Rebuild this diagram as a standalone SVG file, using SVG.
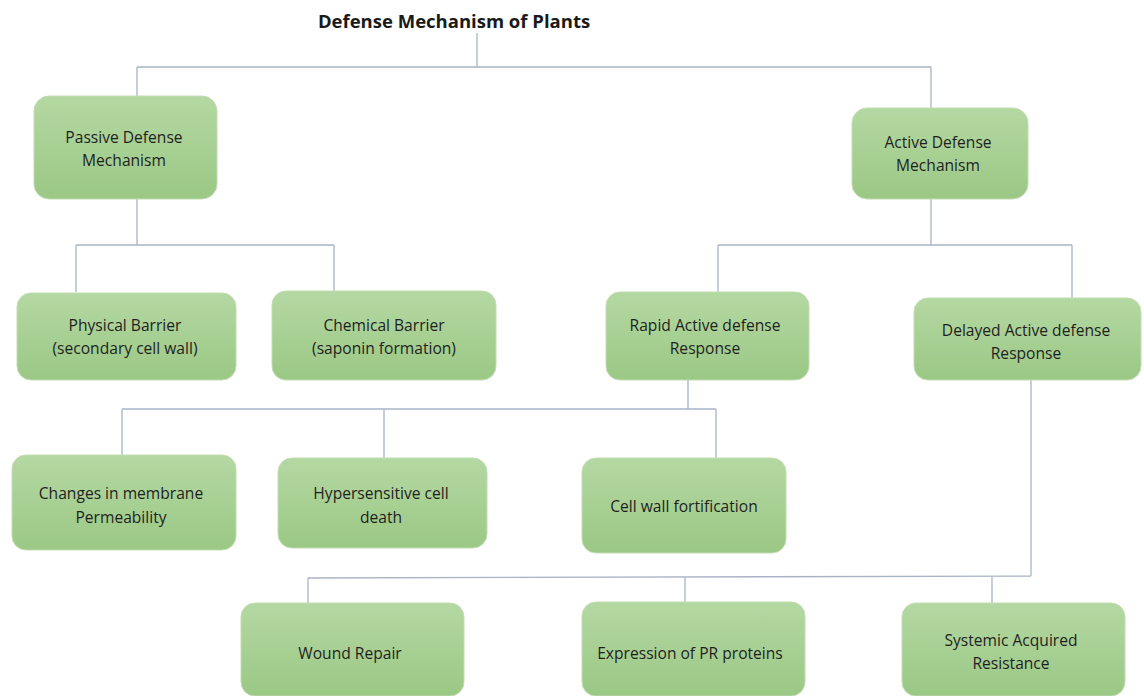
<svg xmlns="http://www.w3.org/2000/svg" width="1144" height="696" viewBox="0 0 1144 696">
<defs>
<linearGradient id="g" x1="0" y1="0" x2="0" y2="1">
<stop offset="0" stop-color="#b4d8a2"/>
<stop offset="1" stop-color="#9bc885"/>
</linearGradient>
<style>
.box{fill:url(#g);stroke:#c2ddb2;stroke-width:1}
.t{font-family:"Open Sans","Liberation Sans",Arial,sans-serif;font-size:15.6px;fill:#1f1f1f;text-anchor:middle}
.title{font-family:"Open Sans","Liberation Sans",Arial,sans-serif;font-size:18.5px;font-weight:bold;fill:#1a1a1a;text-anchor:middle}
.c{fill:none;stroke:#a8b4c6;stroke-width:1.3}
</style>
</defs>
<rect width="1144" height="696" fill="#ffffff"/>
<text class="title" x="454" y="28">Defense Mechanism of Plants</text>
<g id="connectors">
<path class="c" d="M477 33V67M137 67H931M137 67V96M931 67V108"/>
<path class="c" d="M137 199V245M76 245H334M76 245V292M334 245V291"/>
<path class="c" d="M931 199V245M718 245H1072M718 245V292M1072 245V298"/>
<path class="c" d="M688 380V409M122 409H716M122 409V455M384 409V458M716 409V458"/>
<path class="c" d="M1031 380V576M308 578L1031 576M308 578V603M685 577V602M992 576V603"/>
</g>
<g id="passive"><rect class="box" x="34" y="96" width="183" height="103" rx="15"/><text class="t" x="124" y="143">Passive Defense</text><text class="t" x="124" y="166">Mechanism</text></g>
<g id="active"><rect class="box" x="852" y="108" width="176" height="91" rx="15"/><text class="t" x="938" y="148">Active Defense</text><text class="t" x="938" y="171">Mechanism</text></g>
<g id="physical"><rect class="box" x="17" y="293" width="219" height="87" rx="14"/><text class="t" x="125" y="331">Physical Barrier</text><text class="t" x="125" y="354">(secondary cell wall)</text></g>
<g id="chemical"><rect class="box" x="272" y="291" width="224" height="89" rx="14"/><text class="t" x="384" y="331">Chemical Barrier</text><text class="t" x="384" y="354">(saponin  formation)</text></g>
<g id="rapid"><rect class="box" x="606" y="292" width="203" height="88" rx="14"/><text class="t" x="705" y="331">Rapid Active defense</text><text class="t" x="705" y="354">Response</text></g>
<g id="delayed"><rect class="box" x="914" y="298" width="227" height="82" rx="14"/><text class="t" x="1026" y="336">Delayed Active defense</text><text class="t" x="1026" y="359">Response</text></g>
<g id="changes"><rect class="box" x="12" y="455" width="224" height="95" rx="14"/><text class="t" x="121" y="499">Changes in membrane</text><text class="t" x="121" y="523">Permeability</text></g>
<g id="hyper"><rect class="box" x="278" y="458" width="209" height="90" rx="14"/><text class="t" x="381" y="499">Hypersensitive cell</text><text class="t" x="381" y="523">death</text></g>
<g id="cellwall"><rect class="box" x="582" y="458" width="204" height="95" rx="14"/><text class="t" x="684" y="512">Cell wall fortification</text></g>
<g id="wound"><rect class="box" x="241" y="603" width="223" height="93" rx="14"/><text class="t" x="350" y="659">Wound Repair</text></g>
<g id="expression"><rect class="box" x="582" y="602" width="223" height="94" rx="14"/><text class="t" x="690" y="659">Expression of PR proteins</text></g>
<g id="systemic"><rect class="box" x="902" y="603" width="223" height="93" rx="14"/><text class="t" x="1011" y="646">Systemic Acquired</text><text class="t" x="1011" y="669">Resistance</text></g>
</svg>
